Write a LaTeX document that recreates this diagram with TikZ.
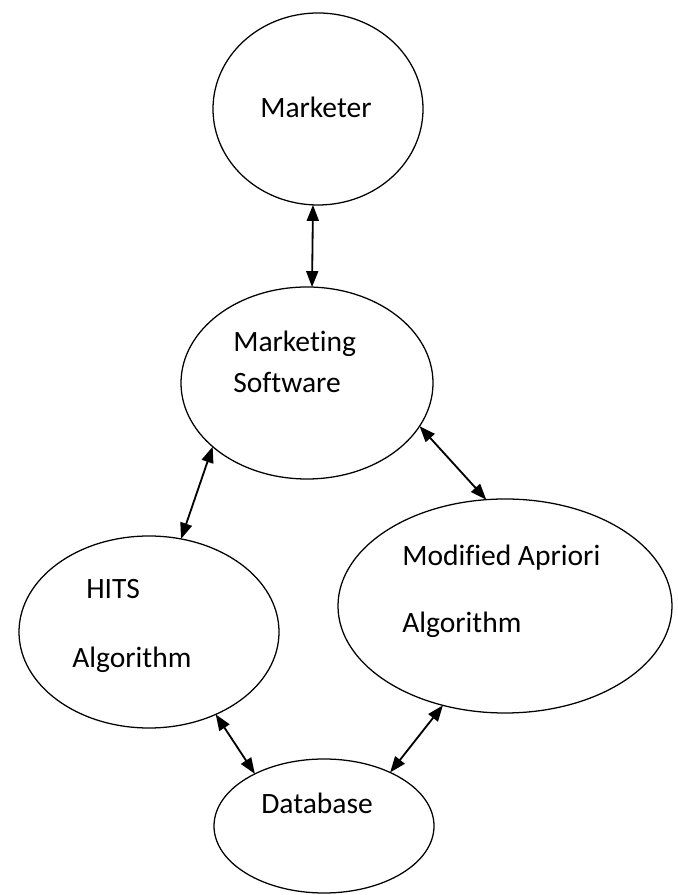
\documentclass[tikz,border=0pt]{standalone}
\usepackage{fontspec}
\setmainfont{Carlito}[Ligatures=NoCommon]
\usepackage{tikz}
\usetikzlibrary{shapes.geometric,arrows.meta}
\tikzset{
	blob/.style={draw, ellipse, line width=0.9pt, inner sep=0pt, outer sep=0pt},
	lbl/.style={anchor=base west, inner sep=0pt, font=\fontsize{21}{25}\selectfont},
	link/.style={line width=1.3pt, {Triangle[length=4mm,width=3mm]}-{Triangle[length=4mm,width=3mm]}}
}

\begin{document}
\begin{tikzpicture}
			%%%%% START %%%%%
			
			\useasboundingbox (0, 0) rectangle (16.95, 22.375);
			
			\node[blob, minimum width=5.25cm, minimum height=4.8cm] (mkt) at (7.95, 19.65) {};
			\node[blob, minimum width=6.3cm, minimum height=4.8cm] (soft) at (7.675, 12.8) {};
			\node[blob, minimum width=6.5cm, minimum height=4.8cm] (hits) at (3.725, 6.575) {};
			\node[blob, minimum width=8.35cm, minimum height=5.35cm] (apri) at (12.625, 7.225) {};
			\node[blob, minimum width=5.5cm, minimum height=3.35cm] (db) at (8.1, 1.725) {};
			
			\node[lbl] (mktA) at (6.5, 19.425) {Marketer};
			\node[lbl] (softA) at (5.825, 13.575) {Marketing};
			\node[lbl] (softB) at (5.825, 12.55) {Software};
			\node[lbl] (hitsA) at (2.15, 7.4) {HITS};
			\node[lbl] (hitsB) at (1.8, 5.675) {Algorithm};
			\node[lbl] (apriA) at (10.05, 8.225) {Modified Apriori};
			\node[lbl] (apriB) at (10.05, 6.55) {Algorithm};
			\node[lbl] (dbA) at (6.525, 2.025) {Database};
			
			\draw[link] (mkt.-93.6) -- (soft.87);
			\draw[link] (soft.214.7) -- (hits.71.7);
			\draw[link] (soft.-21) -- (apri.100);
			\draw[link] (hits.-51.5) -- (db.143);
			\draw[link] (apri.238.5) -- (db.39.6);
			
			%%%%% END %%%%%
		\end{tikzpicture}
\end{document}
